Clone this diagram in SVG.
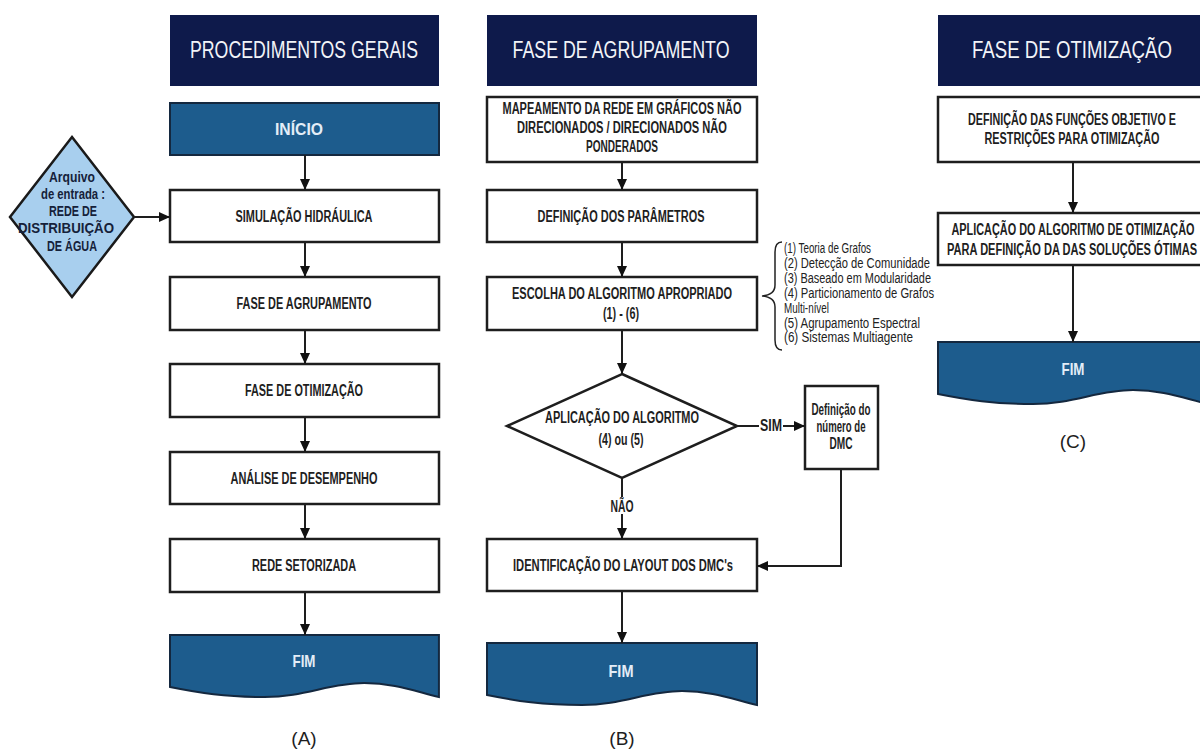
<svg xmlns="http://www.w3.org/2000/svg" xmlns:xlink="http://www.w3.org/1999/xlink" width="1200" height="749" viewBox="0 0 1200 749">
<style>
.hdr{fill:#0e1a4b}
.hdrt{font-family:"Liberation Sans",Arial,sans-serif;font-size:23px;fill:#f2f4f8;text-anchor:middle}
.box{fill:#ffffff;stroke:#1e1e1e;stroke-width:2.5}
.blue{fill:#1d5c8d;stroke:#14283f;stroke-width:2}
.bt{font-family:"Liberation Sans",Arial,sans-serif;font-weight:bold;font-size:16px;fill:#1e1e1e;text-anchor:middle}
.wt{font-family:"Liberation Sans",Arial,sans-serif;font-weight:bold;font-size:17px;fill:#e3edf7;text-anchor:middle}
.dt{font-family:"Liberation Sans",Arial,sans-serif;font-weight:bold;font-size:15.5px;fill:#15213a;text-anchor:middle}
.lt{font-family:"Liberation Sans",Arial,sans-serif;font-size:14px;fill:#222222}
.cap{font-family:"Liberation Sans",Arial,sans-serif;font-size:19px;fill:#1e1e1e;text-anchor:middle}
.con{fill:none;stroke:#1e1e1e;stroke-width:2}
</style>
<defs>
<marker id="ah" markerUnits="userSpaceOnUse" markerWidth="12" markerHeight="10" refX="11" refY="5" orient="auto">
<path d="M0,0 L11,5 L0,10 Z" fill="#111"/>
</marker>
<path id="fim" d="M0,0 H270 V62 C245,56 225,48 195,48 C160,48 135,62 95,62 C55,62 30,58 0,52 Z"/>
</defs>

<!-- Column A -->
<g id="hdrA"><rect class="hdr" x="170" y="15" width="269" height="71"/><text class="hdrt" x="304" y="58" textLength="228" lengthAdjust="spacingAndGlyphs">PROCEDIMENTOS GERAIS</text></g>
<g id="inicio"><rect class="blue" x="170" y="103" width="269" height="52"/><text class="wt" x="299" y="135" textLength="48" lengthAdjust="spacingAndGlyphs">INÍCIO</text></g>
<g id="arquivo"><path d="M72,137 L134,217 L72,297 L10,217 Z" fill="#a8cfee" stroke="#1a1a1a" stroke-width="2.5"/>
<text class="dt" x="72" y="182" textLength="46" lengthAdjust="spacingAndGlyphs">Arquivo</text>
<text class="dt" x="73" y="199" textLength="64" lengthAdjust="spacingAndGlyphs">de entrada :</text>
<text class="dt" x="73" y="216" textLength="48" lengthAdjust="spacingAndGlyphs">REDE DE</text>
<text class="dt" x="66" y="233" textLength="96" lengthAdjust="spacingAndGlyphs">DISTRIBUIÇÃO</text>
<text class="dt" x="72" y="251" textLength="50" lengthAdjust="spacingAndGlyphs">DE ÁGUA</text></g>
<g id="simulacao"><rect class="box" x="170" y="190" width="269" height="52"/><text class="bt" x="304" y="222" textLength="137" lengthAdjust="spacingAndGlyphs">SIMULAÇÃO HIDRÁULICA</text></g>
<g id="agrupA"><rect class="box" x="170" y="277" width="269" height="53"/><text class="bt" x="304" y="309" textLength="135" lengthAdjust="spacingAndGlyphs">FASE DE AGRUPAMENTO</text></g>
<g id="otimA"><rect class="box" x="170" y="364" width="269" height="53"/><text class="bt" x="304" y="396" textLength="118" lengthAdjust="spacingAndGlyphs">FASE DE OTIMIZAÇÃO</text></g>
<g id="analise"><rect class="box" x="170" y="452" width="269" height="52"/><text class="bt" x="304" y="484" textLength="147" lengthAdjust="spacingAndGlyphs">ANÁLISE DE DESEMPENHO</text></g>
<g id="rede"><rect class="box" x="170" y="539" width="269" height="53"/><text class="bt" x="304" y="571" textLength="104" lengthAdjust="spacingAndGlyphs">REDE SETORIZADA</text></g>
<g id="fimA"><use href="#fim" xlink:href="#fim" class="blue" transform="translate(170,635) scale(0.996,1)"/><text class="wt" x="304" y="667" textLength="23" lengthAdjust="spacingAndGlyphs">FIM</text></g>
<text class="cap" x="304" y="745">(A)</text>

<!-- Column B -->
<g id="hdrB"><rect class="hdr" x="487" y="15" width="270" height="71"/><text class="hdrt" x="621" y="58" textLength="217" lengthAdjust="spacingAndGlyphs">FASE DE AGRUPAMENTO</text></g>
<g id="mapeamento"><rect class="box" x="487" y="97" width="270" height="65"/>
<text class="bt" x="622" y="114" textLength="239" lengthAdjust="spacingAndGlyphs">MAPEAMENTO DA REDE EM GRÁFICOS NÃO</text>
<text class="bt" x="622" y="133" textLength="210" lengthAdjust="spacingAndGlyphs">DIRECIONADOS / DIRECIONADOS NÃO</text>
<text class="bt" x="622" y="152" textLength="72" lengthAdjust="spacingAndGlyphs">PONDERADOS</text></g>
<g id="parametros"><rect class="box" x="487" y="190" width="270" height="52"/><text class="bt" x="621" y="222" textLength="167" lengthAdjust="spacingAndGlyphs">DEFINIÇÃO DOS PARÂMETROS</text></g>
<g id="escolha"><rect class="box" x="487" y="277" width="270" height="53"/>
<text class="bt" x="622" y="299" textLength="220" lengthAdjust="spacingAndGlyphs">ESCOLHA DO ALGORITMO APROPRIADO</text>
<text class="bt" x="621" y="319" textLength="36" lengthAdjust="spacingAndGlyphs">(1) - (6)</text></g>
<g id="lista"><path d="M782,242 Q775,242 775,252 V285 Q775,295 762,296 Q775,297 775,307 V340 Q775,350 782,350" fill="none" stroke="#222" stroke-width="1.5"/>
<text class="lt" x="784" y="253" textLength="87" lengthAdjust="spacingAndGlyphs">(1) Teoria de Grafos</text>
<text class="lt" x="784" y="268" textLength="146" lengthAdjust="spacingAndGlyphs">(2) Detecção de Comunidade</text>
<text class="lt" x="784" y="283" textLength="147" lengthAdjust="spacingAndGlyphs">(3) Baseado em Modularidade</text>
<text class="lt" x="784" y="298" textLength="150" lengthAdjust="spacingAndGlyphs">(4) Particionamento de Grafos</text>
<text class="lt" x="784" y="313" textLength="45" lengthAdjust="spacingAndGlyphs">Multi-nível</text>
<text class="lt" x="784" y="328" textLength="136" lengthAdjust="spacingAndGlyphs">(5) Agrupamento Espectral</text>
<text class="lt" x="784" y="342" textLength="129" lengthAdjust="spacingAndGlyphs">(6) Sistemas Multiagente</text></g>
<g id="aplicacao"><path d="M622,374 L737,426 L622,478 L507,426 Z" fill="#ffffff" stroke="#1e1e1e" stroke-width="2.5"/>
<text class="bt" x="622" y="423" textLength="154" lengthAdjust="spacingAndGlyphs">APLICAÇÃO DO ALGORITMO</text>
<text class="bt" x="621" y="445" textLength="45" lengthAdjust="spacingAndGlyphs">(4) ou (5)</text></g>
<g id="dmc"><rect class="box" x="805" y="386" width="73" height="83"/>
<text class="bt" x="841" y="415" font-size="14" textLength="59" lengthAdjust="spacingAndGlyphs">Definição do</text>
<text class="bt" x="841" y="432" font-size="14" textLength="49" lengthAdjust="spacingAndGlyphs">número de</text>
<text class="bt" x="841" y="449" font-size="14" textLength="23" lengthAdjust="spacingAndGlyphs">DMC</text></g>
<g id="identificacao"><rect class="box" x="487" y="539" width="270" height="52"/><text class="bt" x="623" y="571" textLength="220" lengthAdjust="spacingAndGlyphs">IDENTIFICAÇÃO DO LAYOUT DOS DMC's</text></g>
<g id="fimB"><use href="#fim" xlink:href="#fim" class="blue" transform="translate(487,643)"/><text class="wt" x="621" y="677" textLength="25" lengthAdjust="spacingAndGlyphs">FIM</text></g>
<text class="cap" x="622" y="745">(B)</text>

<!-- Column C -->
<g id="hdrC"><rect class="hdr" x="938" y="15" width="270" height="71"/><text class="hdrt" x="1072" y="58" textLength="200" lengthAdjust="spacingAndGlyphs">FASE DE OTIMIZAÇÃO</text></g>
<g id="funcoes"><rect class="box" x="938" y="97" width="270" height="65"/>
<text class="bt" x="1072" y="125" textLength="208" lengthAdjust="spacingAndGlyphs">DEFINIÇÃO DAS FUNÇÕES OBJETIVO E</text>
<text class="bt" x="1072" y="144" textLength="175" lengthAdjust="spacingAndGlyphs">RESTRIÇÕES PARA OTIMIZAÇÃO</text></g>
<g id="algotim"><rect class="box" x="938" y="213" width="270" height="52"/>
<text class="bt" x="1073" y="235" textLength="243" lengthAdjust="spacingAndGlyphs">APLICAÇÃO DO ALGORITMO DE OTIMIZAÇÃO</text>
<text class="bt" x="1072" y="255" textLength="250" lengthAdjust="spacingAndGlyphs">PARA DEFINIÇÃO DA DAS SOLUÇÕES ÓTIMAS</text></g>
<g id="fimC"><use href="#fim" xlink:href="#fim" class="blue" transform="translate(938,342)"/><text class="wt" x="1073" y="375" textLength="23" lengthAdjust="spacingAndGlyphs">FIM</text></g>
<text class="cap" x="1073" y="448">(C)</text>

<!-- Connectors -->
<g id="connectors" class="con">
<path class="con" d="M305,155 V190" marker-end="url(#ah)"/>
<path class="con" d="M305,242 V277" marker-end="url(#ah)"/>
<path class="con" d="M305,330 V364" marker-end="url(#ah)"/>
<path class="con" d="M305,417 V452" marker-end="url(#ah)"/>
<path class="con" d="M305,504 V539" marker-end="url(#ah)"/>
<path class="con" d="M305,592 V635" marker-end="url(#ah)"/>
<path class="con" d="M134,217 H170" marker-end="url(#ah)"/>
<path class="con" d="M622,162 V190" marker-end="url(#ah)"/>
<path class="con" d="M622,242 V277" marker-end="url(#ah)"/>
<path class="con" d="M622,330 V374" marker-end="url(#ah)"/>
<path class="con" d="M737,426 H759"/>
<path class="con" d="M783,426 H805" marker-end="url(#ah)"/>
<path class="con" d="M622,478 V497"/>
<path class="con" d="M622,514 V539" marker-end="url(#ah)"/>
<path class="con" d="M841,469 V566 H757" marker-end="url(#ah)"/>
<path class="con" d="M622,591 V643" marker-end="url(#ah)"/>
<path class="con" d="M1073,162 V213" marker-end="url(#ah)"/>
<path class="con" d="M1073,265 V342" marker-end="url(#ah)"/>
<text class="bt" x="771" y="431" textLength="22" lengthAdjust="spacingAndGlyphs" stroke="none">SIM</text>
<text class="bt" x="622" y="512" textLength="23" lengthAdjust="spacingAndGlyphs" stroke="none">NÃO</text>
</g>
</svg>
